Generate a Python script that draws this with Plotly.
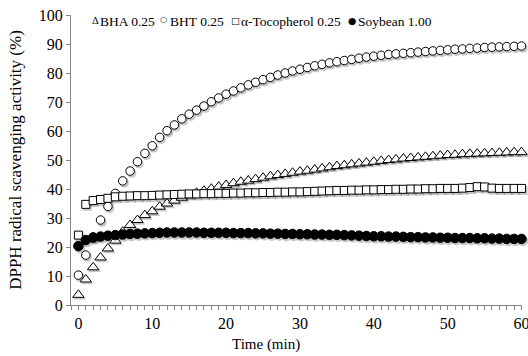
import plotly.graph_objects as go

time_min = list(range(0, 61))

bha_025 = [3.5, 8.8, 13.0, 16.4, 19.5, 22.2, 25.3, 27.6, 29.3, 31.0,
           32.3, 33.9, 35.0, 36.0, 37.0, 37.9, 38.7, 39.4, 40.1, 40.8,
           41.4, 42.0, 42.5, 42.9, 43.4, 43.9, 44.4, 44.8, 45.2, 45.6,
           46.0, 46.3, 46.7, 47.1, 47.5, 47.9, 48.2, 48.5, 48.8, 49.1,
           49.4, 49.7, 50.0, 50.2, 50.5, 50.7, 50.9, 51.1, 51.3, 51.5,
           51.7, 51.8, 52.0, 52.1, 52.2, 52.3, 52.4, 52.5, 52.6, 52.7,
           52.7]

bht_025 = [10.3, 17.2, 23.5, 29.3, 34.0, 38.5, 42.8, 46.2, 49.4, 52.3,
           54.9, 57.8, 60.1, 62.1, 64.2, 65.8, 67.2, 68.6, 70.1, 71.4,
           72.7, 73.8, 74.9, 75.9, 76.8, 77.7, 78.5, 79.3, 80.0, 80.7,
           81.3, 81.9, 82.5, 83.0, 83.5, 83.9, 84.3, 84.7, 85.1, 85.5,
           85.8, 86.1, 86.4, 86.6, 86.8, 87.0, 87.2, 87.4, 87.6, 87.8,
           88.0, 88.2, 88.3, 88.5, 88.6, 88.8, 88.9, 89.0, 89.1, 89.2,
           89.3]

tocopherol_025 = [24.1, 34.7, 36.0, 36.4, 36.8, 37.3, 37.5, 37.6, 37.7, 37.7,
                  37.8, 37.9, 38.0, 38.1, 38.2, 38.3, 38.3, 38.4, 38.4, 38.5,
                  38.5, 38.6, 38.6, 38.7, 38.7, 38.8, 38.8, 38.9, 38.9, 39.0,
                  39.0, 39.1, 39.2, 39.3, 39.4, 39.5, 39.5, 39.6, 39.6, 39.7,
                  39.7, 39.8, 39.8, 39.9, 39.9, 40.0, 40.0, 40.1, 40.1, 40.2,
                  40.2, 40.2, 40.3, 40.5, 40.8, 40.7, 40.3, 40.2, 40.2, 40.2,
                  40.2]

soybean_100 = [20.3, 22.4, 23.2, 23.6, 23.9, 24.1, 24.3, 24.5, 24.6, 24.7,
               24.8, 24.9, 25.0, 25.0, 25.0, 25.0, 25.0, 24.9, 24.9, 24.9,
               24.9, 24.8, 24.8, 24.8, 24.7, 24.7, 24.6, 24.6, 24.5, 24.5,
               24.4, 24.4, 24.3, 24.3, 24.2, 24.2, 24.1, 24.0, 23.9, 23.8,
               23.7, 23.7, 23.6, 23.6, 23.5, 23.4, 23.4, 23.3, 23.3, 23.2,
               23.2, 23.1, 23.1, 23.1, 23.0, 23.0, 22.9, 22.9, 22.8, 22.8,
               22.8]

series_names = ["BHA 0.25", "BHT 0.25", "α-Tocopherol 0.25", "Soybean 1.00"]
legend_glyphs = ["Δ", "○", "□", "●"]
x_title = "Time (min)"
y_title = "DPPH radical scavenging activity (%)"

# ---- geometry (pixels) ----
W_FIG, H_FIG = 528, 356
L, T = 71, 15
SHX, SHY = 1.5, 2.0            # drop-shadow offset
PW, PH = 451 + SHX, 290 + SHY  # paper area incl. shadow offset
R = W_FIG - L - PW
B = H_FIG - T - PH
dx, dy = SHX / PW, SHY / PH


def px2paper(px, py):
    return (px - L) / PW, (T + PH - py) / PH


font_family = "Liberation Serif, Times New Roman, serif"
axis_color = "#868686"

styles = [
    dict(symbol="triangle-up", size=10, color="white"),
    dict(symbol="circle", size=8.5, color="white"),
    dict(symbol="square", size=8, color="white"),
    dict(symbol="circle", size=9.5, color="black"),
]
data = [bha_025, bht_025, tocopherol_025, soybean_100]

fig = go.Figure()
# shadows (drawn first, on the lower subplot)
for name, vals, st in zip(series_names, data, styles):
    fig.add_trace(go.Scatter(
        x=time_min, y=vals, mode="markers", name=name + " shadow",
        marker=dict(symbol=st["symbol"], size=st["size"] + 1,
                    color="rgba(0,0,0,0.22)", line=dict(width=0)),
        cliponaxis=False, showlegend=False, hoverinfo="skip",
        xaxis="x", yaxis="y"))
# main series
for name, vals, st in zip(series_names, data, styles):
    fig.add_trace(go.Scatter(
        x=time_min, y=vals, mode="markers", name=name,
        marker=dict(symbol=st["symbol"], size=st["size"], color=st["color"],
                    line=dict(color="black", width=1)),
        cliponaxis=False, showlegend=False, xaxis="x2", yaxis="y2"))

annotations = []
text_left_px = [98, 168, 239, 356]
glyph_center_px = [96, 164, 236, 352]
glyph_sizes = [10.5, 8, 9.5, 9.5]
glyph_fonts = ["Liberation Serif", "DejaVu Sans", "DejaVu Sans", "DejaVu Sans"]
glyph_py = [20.5, 19.5, 20.5, 20.5]
for name, glyph, tl, gc, gs, gf, gy in zip(series_names, legend_glyphs, text_left_px,
                                          glyph_center_px, glyph_sizes, glyph_fonts, glyph_py):
    gx_p, gy_p = px2paper(gc, gy)
    annotations.append(dict(
        text=glyph, x=gx_p, y=gy_p, xref="paper", yref="paper",
        xanchor="center", yanchor="middle", showarrow=False,
        font=dict(size=gs, family=gf, color="black")))
    tx_p, ty_p = px2paper(tl, 22)
    annotations.append(dict(
        text=name, x=tx_p, y=ty_p, xref="paper", yref="paper",
        xanchor="left", yanchor="middle", showarrow=False,
        font=dict(size=13.5, family=font_family, color="black")))

xt_x, xt_y = px2paper(266, 344)
annotations.append(dict(
    text=x_title, x=xt_x, y=xt_y, xref="paper", yref="paper",
    xanchor="center", yanchor="middle", showarrow=False,
    font=dict(size=15, family=font_family, color="black")))

fig.update_layout(
    width=W_FIG, height=H_FIG,
    margin=dict(l=L, r=R, t=T, b=B),
    paper_bgcolor="white", plot_bgcolor="rgba(0,0,0,0)",
    font=dict(family=font_family, color="black", size=14),
    showlegend=False,
    annotations=annotations,
    xaxis=dict(domain=[dx, 1], range=[-1, 60], visible=False, anchor="y"),
    yaxis=dict(domain=[0, 1 - dy], range=[0, 100], visible=False, anchor="x"),
    xaxis2=dict(
        domain=[0, 1 - dx], anchor="y2", range=[-1, 60],
        showgrid=False, zeroline=False, automargin=False,
        showline=True, linecolor=axis_color, linewidth=1,
        tickmode="linear", tick0=0, dtick=10,
        ticks="outside", ticklen=4, tickcolor=axis_color,
        minor=dict(ticks="outside", ticklen=4, dtick=1, tick0=0,
                   tickcolor=axis_color, showgrid=False),
        tickfont=dict(size=16, family=font_family),
        ticklabeloverflow="allow",
    ),
    yaxis2=dict(
        domain=[dy, 1], anchor="x2", range=[0, 100],
        showgrid=False, zeroline=False, automargin=False,
        showline=True, linecolor=axis_color, linewidth=1,
        tickmode="linear", tick0=0, dtick=10,
        ticks="outside", ticklen=4, tickcolor=axis_color,
        tickfont=dict(size=16, family=font_family),
        title=dict(text=y_title, font=dict(size=17, family=font_family), standoff=12),
    ),
)

fig.write_html("out.html")
